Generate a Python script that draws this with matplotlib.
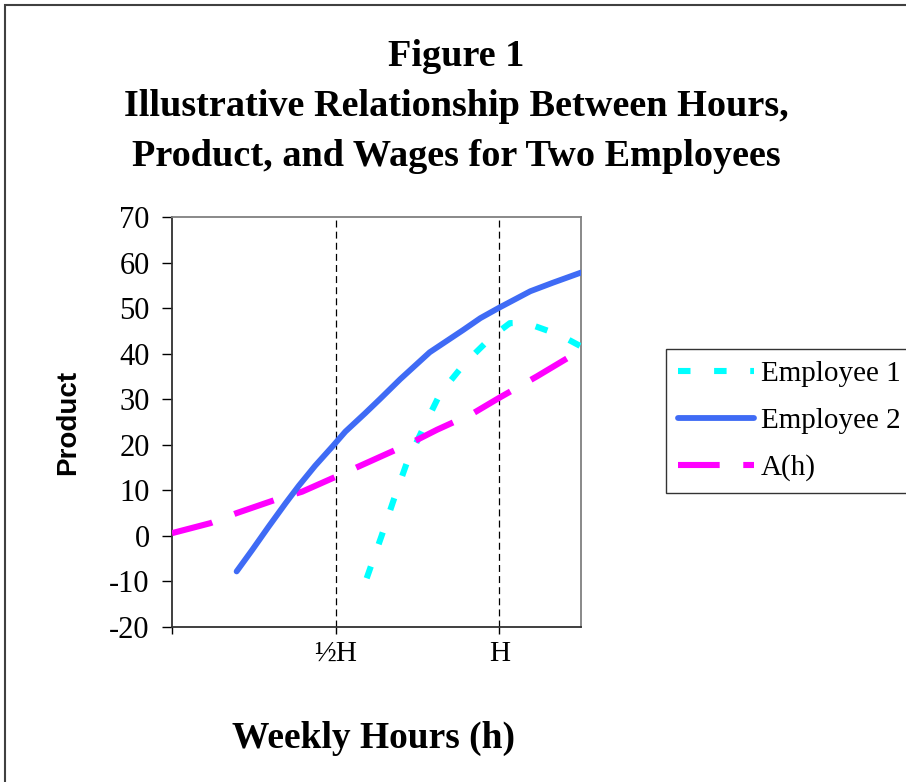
import matplotlib
matplotlib.use("Agg")
import matplotlib.pyplot as plt
from matplotlib.patches import Rectangle

# values (x in hours, H = 40)
emp1_h = [23.8, 25.6, 27.1, 28.7, 30.7, 32.8, 35.8, 39.1, 41.3, 43.2, 47.4, 50.0]
emp1 = [-9.3, -0.1, 7.9, 16.0, 23.6, 31.3, 37.9, 43.7, 46.7, 46.8, 44.1, 41.6]

emp2_h = [7.9, 9.8, 11.8, 13.9, 15.5, 17.5, 19.6, 21.2, 23.6, 25.4, 27.9, 31.5,
          35.6, 37.7, 39.9, 43.8, 46.6, 50.0]
emp2 = [-7.8, -3.1, 2.0, 7.2, 11.0, 15.4, 19.6, 22.9, 26.9, 30.0, 34.4, 40.3,
        45.2, 47.8, 50.0, 53.7, 55.6, 57.8]

a_h = [0, 4.7, 7.9, 12.6, 15.9, 20.8, 25.5, 29.1, 32.4, 36.8, 39.9, 44.6, 50.0]
a_vals = [0.6, 2.8, 5.0, 7.9, 9.7, 13.6, 17.4, 20.3, 23.3, 26.9, 30.2, 35.0, 40.8]

xticks = [0, 20, 40]
xticklabels = ["", "½H", "H"]
yticks = list(range(-20, 71, 10))

plt.rcParams['lines.scale_dashes'] = False

W, Hh = 906, 782
fig = plt.figure(figsize=(W / 100, Hh / 100), dpi=100)
ax = fig.add_axes([172 / W, 1 - 627 / Hh, (581 - 172) / W, (627 - 217) / Hh])

# outer frame (cut by the picture on right and bottom)
fig.patches.append(Rectangle((5 / W, -0.1), 2, 1 - 5 / Hh + 0.1, transform=fig.transFigure,
                             fill=False, ec="#404040", lw=1.5))

for xv in [20, 40]:
    ax.axvline(xv, color="black", lw=0.9, ls=(0, (5, 3)), zorder=1)

ax.plot(emp1_h, emp1, color="#00FFFF", lw=4.4, ls=(0, (9, 17)),
        solid_capstyle="butt", dash_capstyle="butt", label="Employee 1", zorder=3)
ax.plot(emp2_h, emp2, color="#3F6BF5", lw=4.2, solid_capstyle="round",
        solid_joinstyle="round", label="Employee 2", zorder=4)
ax.plot(a_h, a_vals, color="#FF00FF", lw=4.4, ls=(0, (30, 17)),
        dash_capstyle="butt", label="A(h)", zorder=3)

ax.set_xlim(0, 50)
ax.set_ylim(-20, 70)
ax.set_xticks(xticks)
ax.set_xticklabels(xticklabels, family="Liberation Serif", fontsize=21)
ax.set_yticks(yticks)
ax.set_yticklabels([str(v) for v in yticks], family="Liberation Serif", fontsize=22)
ax.tick_params(axis="y", direction="out", length=7, width=1, pad=9)
ax.tick_params(axis="x", direction="out", length=5, width=1, pad=5)

for s in ["left", "bottom"]:
    ax.spines[s].set_color("#303030")
    ax.spines[s].set_linewidth(1.3)
for s in ["top", "right"]:
    ax.spines[s].set_color("#808080")
    ax.spines[s].set_linewidth(1.3)

fig.text(456 / W, 1 - 57 / Hh, "Figure 1", ha="center", va="center",
         family="Liberation Serif", weight="bold", fontsize=27.5)
fig.text(456 / W, 1 - 107 / Hh, "Illustrative Relationship Between Hours,", ha="center",
         va="center", family="Liberation Serif", weight="bold", fontsize=27.5)
fig.text(456 / W, 1 - 157 / Hh, "Product, and Wages for Two Employees", ha="center",
         va="center", family="Liberation Serif", weight="bold", fontsize=27.5)

fig.text(374 / W, 1 - 738 / Hh, "Weekly Hours (h)", ha="center", va="center",
         family="Liberation Serif", weight="bold", fontsize=27)
fig.text(68 / W, 1 - 422 / Hh, "Product", ha="center", va="center", rotation=90,
         family="Liberation Sans", weight="bold", fontsize=20)

leg = fig.legend(loc="upper left", bbox_to_anchor=(666 / W, 1 - 349 / Hh),
                 prop={"family": "Liberation Serif", "size": 21}, frameon=True,
                 fancybox=False, edgecolor="black", handlelength=2.6,
                 handletextpad=0.25, labelspacing=0.7, borderpad=0.4,
                 borderaxespad=0)
leg.get_frame().set_linewidth(1.0)

fig.savefig("out.png", dpi=100)
